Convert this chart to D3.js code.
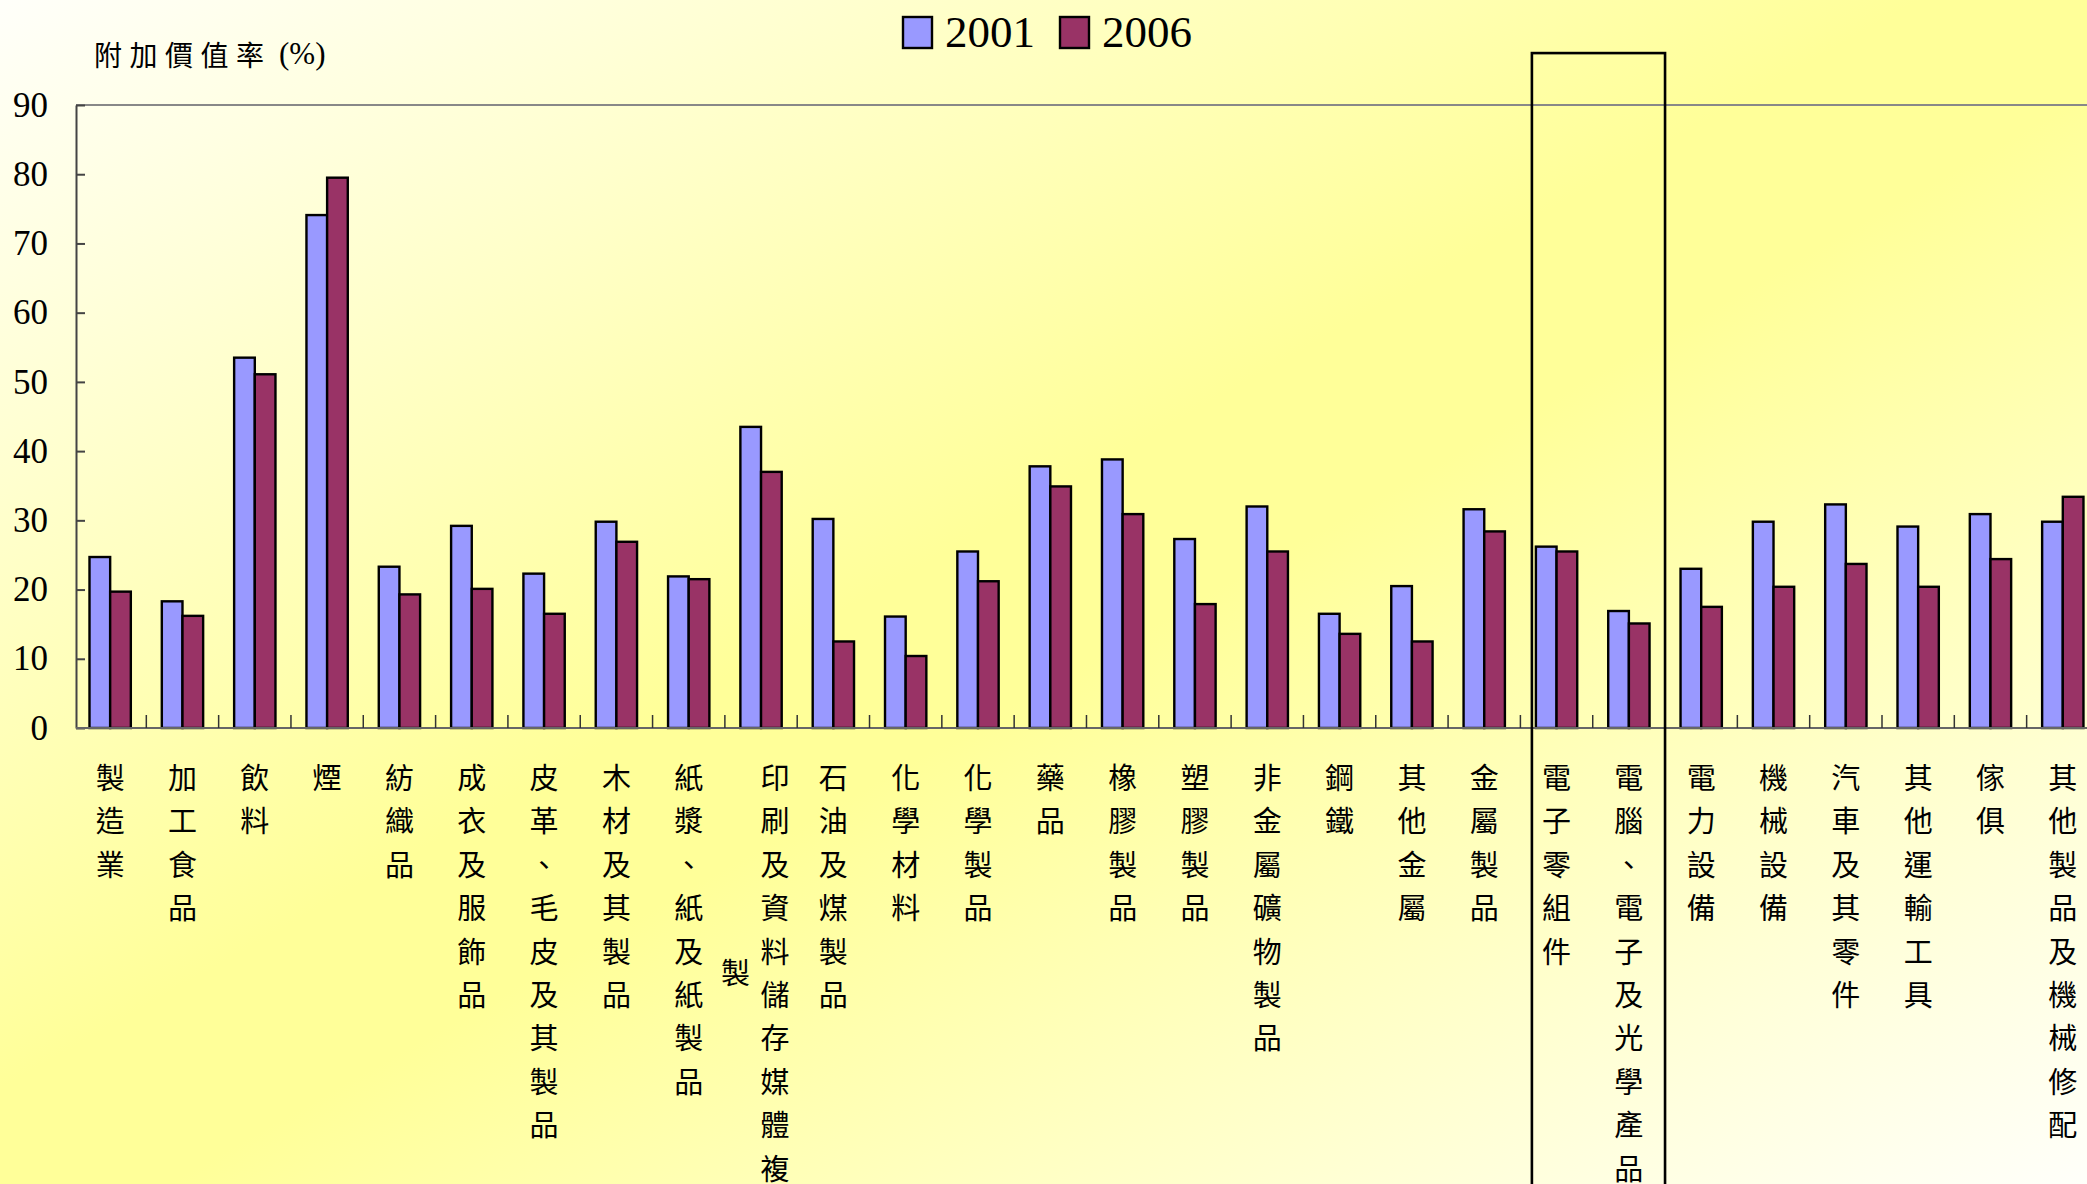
<!DOCTYPE html>
<html>
<head>
<meta charset="utf-8">
<script src="https://cdn.jsdelivr.net/npm/d3@7"></script>
<style>
	html, body { margin: 0; padding: 0; overflow: hidden; }
	#chart { width: 2087px; height: 1184px; }
</style>
</head>
<body>
<div id="chart"></div>
<script>
(function(){
	var categories = ["製造業", "加工食品", "飲料", "煙", "紡織品", "成衣及服飾品", "皮革、毛皮及其製品",
		"木材及其製品", "紙漿、紙及紙製品", "印刷及資料儲存媒體複製", "石油及煤製品", "化學材料", "化學製品",
		"藥品", "橡膠製品", "塑膠製品", "非金屬礦物製品", "鋼鐵", "其他金屬", "金屬製品", "電子零組件",
		"電腦、電子及光學產品", "電力設備", "機械設備", "汽車及其零件", "其他運輸工具", "傢俱", "其他製品及機械修配"];

	var series = ["2001", "2006"];

	var values2001 = [24.7, 18.3, 53.5, 74.1, 23.3, 29.2, 22.3, 29.8, 21.9, 43.5, 30.2, 16.1, 25.5, 37.8,
		38.8, 27.3, 32.0, 16.5, 20.5, 31.6, 26.2, 16.9, 23.0, 29.8, 32.3, 29.1, 30.9, 29.8];
	var values2006 = [19.7, 16.2, 51.1, 79.5, 19.3, 20.1, 16.5, 26.9, 21.5, 37.0, 12.5, 10.4, 21.2, 34.9,
		30.9, 17.9, 25.5, 13.6, 12.5, 28.4, 25.5, 15.1, 17.5, 20.4, 23.7, 20.4, 24.4, 33.4];

	var yTicks = [0, 10, 20, 30, 40, 50, 60, 70, 80, 90];

	// categories framed by the box
	var highlighted = ["電子零組件", "電腦、電子及光學產品"];

	var colors = {"2001": "#9999ff", "2006": "#993366"};

	var width = 2087,
		height = 1184;

	var svg = d3.select("#chart")
		.append("svg")
		.attr("width", width)
		.attr("height", height)

	// background
	var grad = svg.append("defs").append("linearGradient")
		.attr("id", "bg")
		.attr("x1", 0).attr("y1", 0).attr("x2", 1).attr("y2", 1)
	grad.append("stop").attr("offset", "0").attr("stop-color", "#fffffa")
	grad.append("stop").attr("offset", "0.46").attr("stop-color", "#ffff99")
	grad.append("stop").attr("offset", "0.54").attr("stop-color", "#ffff99")
	grad.append("stop").attr("offset", "1").attr("stop-color", "#fffffa")
	svg.append("rect")
		.attr("width", width)
		.attr("height", height)
		.attr("fill", "url(#bg)")

	var axisX = 76;

	var x0 = d3.scaleBand()
		.domain(categories)
		.range([74, 74 + 28 * 72.32])
		.padding(0)

	var x1 = d3.scaleBand()
		.domain(series)
		.range([0, x0.bandwidth()])
		.paddingInner(0)
		.paddingOuter(0.75)

	var y = d3.scaleLinear()
		.domain([0, 90])
		.range([728, 105])

	// top line at 90
	svg.append("line")
		.attr("x1", axisX).attr("x2", width)
		.attr("y1", y(90)).attr("y2", y(90))
		.attr("stroke", "#888")
		.attr("stroke-width", 2)

	// y axis
	var yAxis = svg.append("g")
		.attr("transform", "translate(" + axisX + ",0)")
		.call(d3.axisLeft(y).tickValues(yTicks).tickSizeInner(-9).tickSizeOuter(0).tickPadding(28))
	yAxis.select(".domain").attr("stroke", "#444").attr("stroke-width", 2)
	yAxis.selectAll(".tick line").attr("stroke", "#444").attr("stroke-width", 2)
	yAxis.selectAll(".tick text")
		.attr("font-family", "'Liberation Serif', serif")
		.attr("font-size", 35)
		.attr("fill", "#000")

	// bars
	var rows = categories.map(function(c, i){
		return {cat: c, vals: [{s: "2001", v: values2001[i]}, {s: "2006", v: values2006[i]}]};
	});

	var groups = svg.selectAll(".grp")
		.data(rows)
		.enter().append("g")
		.attr("class", "grp")
		.attr("transform", function(d){ return "translate(" + x0(d.cat) + ",0)"; })

	groups.selectAll("rect")
		.data(function(d){ return d.vals; })
		.enter().append("rect")
		.attr("x", function(d){ return x1(d.s); })
		.attr("width", x1.bandwidth())
		.attr("y", function(d){ return y(d.v); })
		.attr("height", function(d){ return y(0) - y(d.v); })
		.attr("fill", function(d){ return colors[d.s]; })
		.attr("stroke", "#000")
		.attr("stroke-width", 2.4)

	// x axis baseline and ticks between categories
	svg.append("line")
		.attr("x1", axisX).attr("x2", width)
		.attr("y1", y(0)).attr("y2", y(0))
		.attr("stroke", "#666")
		.attr("stroke-width", 2)

	svg.selectAll(".xtick")
		.data(categories.slice(1))
		.enter().append("line")
		.attr("class", "xtick")
		.attr("x1", function(d){ return x0(d); })
		.attr("x2", function(d){ return x0(d); })
		.attr("y1", y(0))
		.attr("y2", y(0) - 13)
		.attr("stroke", "#333")
		.attr("stroke-width", 1.5)

	// vertical category labels, 10 characters per column
	var lineStep = 43.4,
		labelTop = 776;

	rows.forEach(function(d){
		var chars = Array.from(d.cat);
		var cols = [];
		for (var i = 0; i < chars.length; i += 10) cols.push(chars.slice(i, i + 10));
		var cx = x0(d.cat) + x0.bandwidth() / 2 + (cols.length > 1 ? 14 : 0);
		var mid = labelTop + (cols[0].length - 1) * lineStep / 2;
		cols.forEach(function(col, k){
			var top = k === 0 ? labelTop : mid - (col.length - 1) * lineStep / 2;
			svg.selectAll(null)
				.data(col)
				.enter().append("text")
				.attr("x", cx - k * 39.5)
				.attr("y", function(ch, j){ return top + j * lineStep; })
				.attr("text-anchor", "middle")
				.attr("dominant-baseline", "central")
				.attr("font-family", "'Noto Sans CJK TC', sans-serif")
				.attr("font-size", 29)
				.attr("fill", "#000")
				.text(function(ch){ return ch; })
		});
	});

	// y axis title
	svg.append("text")
		.attr("x", 94)
		.attr("y", 54)
		.attr("dominant-baseline", "central")
		.attr("font-family", "'Noto Sans CJK TC', sans-serif")
		.attr("font-size", 28)
		.attr("letter-spacing", 7.5)
		.attr("fill", "#000")
		.text("附加價值率")
	svg.append("text")
		.attr("x", 279)
		.attr("y", 64)
		.attr("font-family", "'Liberation Serif', serif")
		.attr("font-size", 31)
		.attr("fill", "#000")
		.text("(%)")

	// legend
	var legendX = [903, 1060];
	var legend = svg.selectAll(".leg")
		.data(series)
		.enter().append("g")
		.attr("class", "leg")
		.attr("transform", function(d, i){ return "translate(" + legendX[i] + ",17)"; })
	legend.append("rect")
		.attr("width", 29)
		.attr("height", 31)
		.attr("fill", function(d){ return colors[d]; })
		.attr("stroke", "#000")
		.attr("stroke-width", 2.4)
	legend.append("text")
		.attr("x", 42)
		.attr("y", 30)
		.attr("font-family", "'Liberation Serif', serif")
		.attr("font-size", 45)
		.attr("fill", "#000")
		.text(function(d){ return d; })

	// box around the electronics categories
	var boxLeft = x0(highlighted[0]) + 11.5,
		boxRight = x0(highlighted[1]) + x0.bandwidth();
	svg.append("rect")
		.attr("x", boxLeft)
		.attr("y", y(97.5))
		.attr("width", boxRight - boxLeft)
		.attr("height", height)
		.attr("fill", "none")
		.attr("stroke", "#000")
		.attr("stroke-width", 2.6)

})();
</script>
</body>
</html>
